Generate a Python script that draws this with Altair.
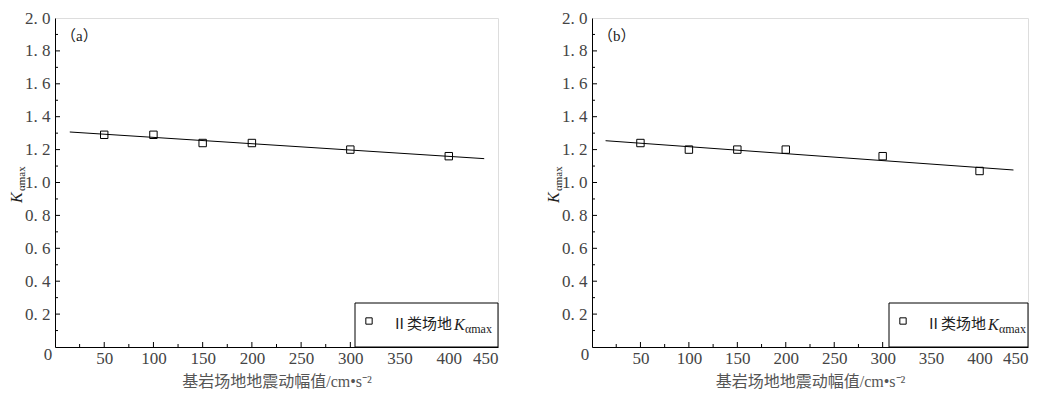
import altair as alt
import pandas as pd

# ---- data ----
x_vals = [50, 100, 150, 200, 300, 400]
a_vals = [1.29, 1.29, 1.24, 1.24, 1.20, 1.16]
b_vals = [1.24, 1.20, 1.20, 1.20, 1.16, 1.07]
a_fit_x = [15, 436]
a_fit_y = [1.307, 1.145]
b_fit_x = [14, 435]
b_fit_y = [1.254, 1.076]

x_labels = [50, 100, 150, 200, 250, 300, 350, 400, 450]
y_labels = [0.2, 0.4, 0.6, 0.8, 1.0, 1.2, 1.4, 1.6, 1.8, 2.0]
x_major = [50, 100, 150, 200, 250, 300, 350, 400]
x_minor = [25, 75, 125, 175, 225, 275, 325, 375, 425]
y_major = [0.2, 0.4, 0.6, 0.8, 1.0, 1.2, 1.4, 1.6, 1.8]
y_minor = [0.1, 0.3, 0.5, 0.7, 0.9, 1.1, 1.3, 1.5, 1.7, 1.9]

x_title = "基岩场地地震动幅值/cm•s⁻²"
legend_text = "Ⅱ类场地"
panel_tags = ["（a）", "（b）"]

H = 329
NUM_FONT = "Liberation Serif"
CJK_FONT = "Noto Sans CJK SC"
MIX_FONT = "Liberation Serif, Noto Sans CJK SC"
LBL_COLOR = "#444444"


def panel(tag, ys, fx, fy, W, leg_w):
    xs = alt.Scale(domain=[0, 450], nice=False, zero=False)
    ysc = alt.Scale(domain=[0, 2], nice=False, zero=False)
    xax = alt.Axis(values=x_labels, title=x_title, ticks=False, grid=False,
                   format="d", labelFont=NUM_FONT, labelFontSize=17,
                   labelColor=LBL_COLOR, labelPadding=3, domainColor="black",
                   titleFont=MIX_FONT, titleFontSize=16, titleFontWeight="normal",
                   titleColor="#555555", titlePadding=7)
    yax = alt.Axis(values=y_labels, title=None, ticks=False, grid=False,
                   labelExpr="replace(format(datum.value, '.1f'), '.', '. ')",
                   labelFont=NUM_FONT, labelFontSize=17, labelColor=LBL_COLOR,
                   labelPadding=5, domainColor="black")

    def X(f):
        return alt.X(f, type="quantitative", scale=xs, axis=xax)

    def Y(f):
        return alt.Y(f, type="quantitative", scale=ysc, axis=yax)

    pts = alt.Chart(pd.DataFrame({"x": x_vals, "y": ys})).mark_point(
        shape="square", filled=False, color="black", size=55, strokeWidth=1, opacity=1
    ).encode(x=X("x"), y=Y("y"))
    fit = alt.Chart(pd.DataFrame({"x": fx, "y": fy})).mark_line(
        color="black", strokeWidth=1
    ).encode(x=X("x"), y=Y("y"))

    xt1 = alt.Chart(pd.DataFrame({"x": x_major})).mark_rule(color="black").encode(
        x=X("x"), y=alt.value(H), y2=alt.value(H - 5))
    xt2 = alt.Chart(pd.DataFrame({"x": x_minor})).mark_rule(color="black").encode(
        x=X("x"), y=alt.value(H), y2=alt.value(H - 3))
    yt1 = alt.Chart(pd.DataFrame({"y": y_major})).mark_rule(color="black").encode(
        y=Y("y"), x=alt.value(0), x2=alt.value(5))
    yt2 = alt.Chart(pd.DataFrame({"y": y_minor})).mark_rule(color="black").encode(
        y=Y("y"), x=alt.value(0), x2=alt.value(3))

    zero = alt.Chart(pd.DataFrame({"t": ["0"]})).mark_text(
        font=NUM_FONT, fontSize=17, color=LBL_COLOR, align="center", baseline="middle"
    ).encode(text="t:N", x=alt.value(-7), y=alt.value(H + 8))

    tag_t = alt.Chart(pd.DataFrame({"t": [tag]})).mark_text(
        font=MIX_FONT, fontSize=15, color="#222222", align="left", baseline="middle"
    ).encode(text="t:N", x=alt.value(6), y=alt.value(18))

    yk = alt.Chart(pd.DataFrame({"t": ["K"]})).mark_text(
        font=NUM_FONT, fontSize=16, fontStyle="italic", color="#222222",
        align="left", baseline="alphabetic", angle=270
    ).encode(text="t:N", x=alt.value(-33), y=alt.value(185))
    ysub = alt.Chart(pd.DataFrame({"t": ["αmax"]})).mark_text(
        font=NUM_FONT, fontSize=11, color="#222222",
        align="left", baseline="alphabetic", angle=270
    ).encode(text="t:N", x=alt.value(-30), y=alt.value(173))

    leg_box = alt.Chart(pd.DataFrame({"t": [0]})).mark_rect(
        fill="white", stroke="black", strokeWidth=1
    ).encode(x=alt.value(W - leg_w), x2=alt.value(W), y=alt.value(285), y2=alt.value(H))
    lx = W - leg_w
    leg_sq = alt.Chart(pd.DataFrame({"t": [0]})).mark_point(
        shape="square", filled=False, color="black", size=40, strokeWidth=1, opacity=1
    ).encode(x=alt.value(lx + 14), y=alt.value(303))
    leg_t = alt.Chart(pd.DataFrame({"t": [legend_text]})).mark_text(
        font=MIX_FONT, fontSize=15, color="#222222", align="left", baseline="middle"
    ).encode(text="t:N", x=alt.value(lx + 37), y=alt.value(306))
    leg_k = alt.Chart(pd.DataFrame({"t": ["K"]})).mark_text(
        font=NUM_FONT, fontSize=16, fontStyle="italic", color="#222222",
        align="left", baseline="alphabetic"
    ).encode(text="t:N", x=alt.value(lx + 99), y=alt.value(312))
    leg_sub = alt.Chart(pd.DataFrame({"t": ["αmax"]})).mark_text(
        font=NUM_FONT, fontSize=12, color="#222222",
        align="left", baseline="alphabetic"
    ).encode(text="t:N", x=alt.value(lx + 110), y=alt.value(315))

    return alt.layer(
        xt1, xt2, yt1, yt2, fit, pts, zero, tag_t, yk, ysub,
        leg_box, leg_sq, leg_t, leg_k, leg_sub
    ).properties(width=W, height=H)


pa = panel(panel_tags[0], a_vals, a_fit_x, a_fit_y, 443, 143)
pb = panel(panel_tags[1], b_vals, b_fit_x, b_fit_y, 436, 139)

chart = alt.hconcat(pa, pb, spacing=46).properties(
    padding={"left": 0, "top": 0, "right": 0, "bottom": 0}
).configure_view(stroke="black", strokeWidth=1).configure(background="white")

chart.save("out.html", embed_options={"renderer": "svg", "actions": False})
